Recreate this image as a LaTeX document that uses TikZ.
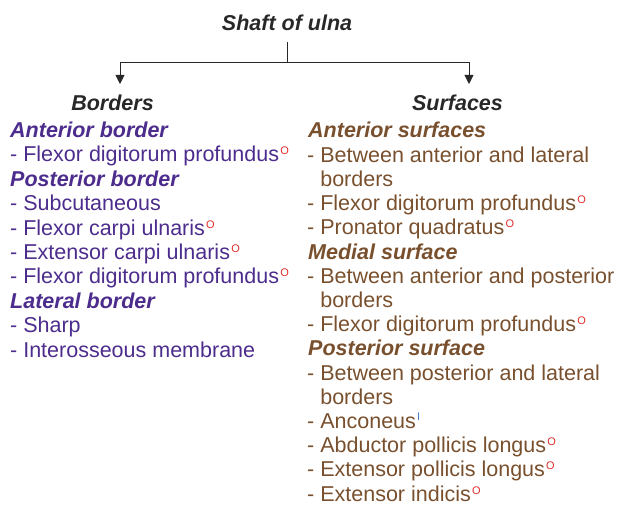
\documentclass[tikz,border=0pt]{standalone}
\usepackage{fontspec}
\setmainfont{Liberation Sans}
\usetikzlibrary{arrows.meta}
\definecolor{pur}{RGB}{76,44,140}
\definecolor{brn}{RGB}{121,80,46}
\definecolor{ttl}{RGB}{40,40,40}
\definecolor{ringred}{RGB}{225,45,45}
\definecolor{barblue}{RGB}{70,130,200}
\newcommand{\rg}{\hspace{1.2pt}{\fontsize{11}{11}\selectfont\raisebox{7pt}{\color{ringred}O}}}
\newcommand{\bl}{\hspace{1.2pt}{\fontsize{11}{11}\selectfont\raisebox{7.5pt}{\color{barblue}I}}}
\begin{document}
\begin{tikzpicture}[x=1pt,y=-1pt,
  txt/.style={inner sep=0pt,anchor=base west,font=\fontsize{21.5}{24}\selectfont},
  head/.style={txt,font=\fontsize{21.5}{24}\selectfont\bfseries\itshape},
  lt/.style={txt,text=pur},
  lh/.style={head,text=pur},
  rt/.style={txt,text=brn},
  rh/.style={head,text=brn},
  conn/.style={draw=ttl,line width=0.9pt},
  arr/.style={conn,-{Triangle[length=9pt,width=9pt]}}]
\useasboundingbox (0,0) rectangle (621,505);
% title and column heads
\node[head,text=ttl,anchor=base] (title) at (287,31) {Shaft of ulna};
\node[head,text=ttl,anchor=base] (borders) at (112.5,111) {Borders};
\node[head,text=ttl,anchor=base] (surfaces) at (457.5,111) {Surfaces};
\coordinate (split) at (287,62);
\coordinate (la) at (120,84);
\coordinate (ra) at (469,84);
\draw[conn] (287,42) -- (split);
\draw[arr] (split) -| (la);
\draw[arr] (split) -| (ra);
% left column
\def\lb{137.5}\def\ls{24.4}
\node[lh] (l0) at (10,\lb) {Anterior border};
\node[lt] (l1) at (10,\lb+\ls) {- Flexor digitorum profundus\rg};
\node[lh] (l2) at (10,\lb+2*\ls) {Posterior border};
\node[lt] (l3) at (10,\lb+3*\ls) {- Subcutaneous};
\node[lt] (l4) at (10,\lb+4*\ls) {- Flexor carpi ulnaris\rg};
\node[lt] (l5) at (10,\lb+5*\ls) {- Extensor carpi ulnaris\rg};
\node[lt] (l6) at (10,\lb+6*\ls) {- Flexor digitorum profundus\rg};
\node[lh] (l7) at (10,\lb+7*\ls) {Lateral border};
\node[lt] (l8) at (10,\lb+8*\ls) {- Sharp};
\node[lt] (l9) at (10,\lb+9*\ls) {- Interosseous membrane};
% right column
\def\rb{138}\def\rs{24.2}
\node[rh] (r0) at (308,\rb) {Anterior surfaces};
\node[rt] (r1) at (307,\rb+\rs) {- Between anterior and lateral};
\node[rt] (r2) at (307,\rb+2*\rs) {\phantom{- }borders};
\node[rt] (r3) at (307,\rb+3*\rs) {- Flexor digitorum profundus\rg};
\node[rt] (r4) at (307,\rb+4*\rs) {- Pronator quadratus\rg};
\node[rh] (r5) at (308,\rb+5*\rs) {Medial surface};
\node[rt] (r6) at (307,\rb+6*\rs) {- Between anterior and posterior};
\node[rt] (r7) at (307,\rb+7*\rs) {\phantom{- }borders};
\node[rt] (r8) at (307,\rb+8*\rs) {- Flexor digitorum profundus\rg};
\node[rh] (r9) at (308,\rb+9*\rs) {Posterior surface};
\node[rt] (r10) at (307,\rb+10*\rs) {- Between posterior and lateral};
\node[rt] (r11) at (307,\rb+11*\rs) {\phantom{- }borders};
\node[rt] (r12) at (307,\rb+12*\rs) {- Anconeus\bl};
\node[rt] (r13) at (307,\rb+13*\rs) {- Abductor pollicis longus\rg};
\node[rt] (r14) at (307,\rb+14*\rs) {- Extensor pollicis longus\rg};
\node[rt] (r15) at (307,\rb+15*\rs) {- Extensor indicis\rg};
\end{tikzpicture}
\end{document}
